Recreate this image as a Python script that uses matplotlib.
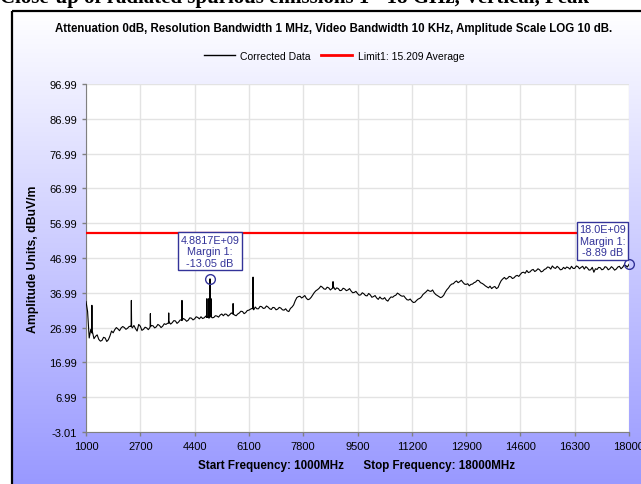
import numpy as np
import matplotlib.pyplot as plt
from matplotlib.lines import Line2D
from matplotlib.patches import Rectangle

# Sweep settings (MHz)
start_mhz = 1000
stop_mhz = 18000
step_mhz = 100

# Corrected data at 1000, 1100, ... 18000 MHz (dBuV/m)
level = [
    34.5, 24.0, 25.8, 24.5, 23.6, 23.3, 24.0, 23.5, 26.0, 26.4,
    26.6, 26.9, 27.0, 26.8, 27.4, 27.6, 26.0, 27.4, 26.5, 26.9,
    27.0, 27.5, 27.2, 27.6, 27.4, 27.9, 28.6, 28.4, 28.9, 28.6,
    29.0, 29.3, 29.1, 29.7, 29.5, 29.9, 30.1, 29.8, 30.0, 30.2,
    29.9, 30.3, 30.6, 30.4, 30.8, 30.7, 31.0, 30.4, 31.2, 31.6,
    31.3, 32.0, 32.5, 32.9, 32.4, 33.0, 32.6, 32.9, 32.2, 32.7,
    32.3, 32.6, 32.0, 31.8, 32.5, 33.5, 35.6, 36.0, 35.8, 35.4,
    35.2, 36.4, 37.6, 38.3, 38.6, 38.0, 38.4, 38.2, 37.9, 38.2,
    37.7, 38.1, 37.8, 37.5, 37.1, 36.8, 36.4, 36.7, 36.1, 36.4,
    35.9, 35.5, 35.8, 35.2, 34.9, 35.3, 35.7, 36.3, 36.6, 36.0,
    35.5, 34.9, 34.6, 34.3, 35.2, 35.8, 36.9, 37.8, 37.4, 37.0,
    36.2, 35.6, 36.3, 37.9, 39.1, 39.6, 40.4, 40.2, 40.0, 39.4,
    39.0, 39.5, 40.1, 40.5, 39.7, 39.0, 38.4, 38.2, 38.8, 38.5,
    40.5, 41.4, 41.2, 41.6, 41.3, 42.0, 42.3, 42.9, 43.4, 43.0,
    43.7, 43.4, 43.6, 43.2, 43.9, 44.3, 44.7, 44.0, 44.2, 43.7,
    43.9, 44.2, 44.6, 44.0, 44.5, 44.3, 43.8, 44.1, 43.6, 42.9,
    43.7, 44.2, 43.8, 44.3, 43.9, 44.1, 43.8, 44.6, 44.3, 44.8,
    45.16,
]

# Corrected data at 1050, 1150, ... 17950 MHz (dBuV/m)
level_half = [
    31.6, 26.5, 23.8, 24.9, 23.1, 24.2, 23.0, 24.6, 25.5, 27.0,
    26.1, 27.3, 26.5, 27.3, 26.9, 26.7, 27.9, 26.2, 27.1, 26.4,
    27.6, 26.9, 27.9, 27.0, 28.1, 28.2, 28.0, 29.0, 28.2, 29.2,
    29.6, 28.8, 29.8, 29.2, 30.1, 29.5, 29.6, 30.3, 29.7, 29.8,
    30.4, 30.0, 30.9, 30.9, 30.3, 31.2, 30.6, 30.9, 31.7, 31.0,
    31.9, 32.3, 32.1, 32.4, 33.1, 32.5, 33.2, 32.4, 32.8, 32.1,
    32.8, 32.1, 32.4, 31.6, 32.9, 34.7, 35.9, 35.5, 36.2, 35.0,
    35.7, 37.1, 37.9, 38.9, 38.1, 38.6, 37.8, 38.7, 38.4, 37.6,
    38.3, 37.6, 38.2, 37.0, 37.4, 36.3, 37.0, 36.2, 36.8, 35.7,
    36.2, 35.1, 35.3, 35.6, 34.6, 35.8, 36.1, 36.9, 36.2, 36.1,
    35.0, 35.2, 34.2, 34.8, 35.4, 36.5, 37.3, 37.5, 37.8, 36.5,
    35.9, 35.8, 37.2, 38.4, 39.5, 40.1, 39.9, 40.6, 39.5, 39.6,
    39.4, 39.9, 40.6, 39.9, 39.4, 38.7, 38.9, 38.6, 38.2, 39.6,
    41.0, 40.9, 41.7, 41.1, 41.8, 41.7, 42.8, 42.6, 42.8, 43.5,
    43.1, 43.9, 43.0, 43.7, 44.4, 43.8, 44.2, 44.6, 43.6, 44.3,
    44.4, 43.8, 44.0, 44.7, 43.9, 44.6, 44.5, 43.5, 44.3, 43.9,
    44.3, 43.6, 44.5, 43.6, 44.5, 43.5, 44.4, 43.9, 45.0, 44.4,
]

# Narrow spurs sitting on the trace
spur_freq = [1185, 2420, 3015, 3590, 4005, 4785, 4845, 4882, 4915, 5605, 6230, 8734]
spur_peak = [33.4, 34.8, 31.0, 31.2, 34.8, 35.3, 35.3, 41.0, 35.3, 33.9, 41.5, 40.2]
spur_base = [25.5, 27.3, 27.3, 28.3, 29.2, 29.9, 30.0, 30.1, 30.1, 30.9, 32.4, 38.4]

limit = 54.05
marker_freq = [4881.7, 18000]
marker_level = [41.0, 45.16]
marker_text = ['4.8817E+09\nMargin 1:\n-13.05 dB', '18.0E+09\nMargin 1:\n-8.89 dB']

y_ticks = [-3.01, 6.99, 16.99, 26.99, 36.99, 46.99, 56.99, 66.99, 76.99, 86.99, 96.99]
x_ticks = [1000, 2700, 4400, 6100, 7800, 9500, 11200, 12900, 14600, 16300, 18000]

navy = '#333399'

# Build trace: sweep points, half steps and spurs, sorted by frequency
freq = np.arange(start_mhz, stop_mhz + 1, step_mhz)
freq_half = freq[:-1] + step_mhz // 2
pts = list(zip(freq, level)) + list(zip(freq_half, level_half))
for f, p, b in zip(spur_freq, spur_peak, spur_base):
    pts += [(f - 8, b), (f, p), (f + 8, b)]
pts.sort()
tx = [p[0] for p in pts]
ty = [p[1] for p in pts]

plt.rcParams['font.family'] = ['Liberation Sans', 'DejaVu Sans']

fig = plt.figure(figsize=(6.41, 4.85), dpi=100)

# Panel background: vertical gradient white -> periwinkle, drawn in pixels
panel_h, panel_w = 473, 629
t = np.linspace(0, 1, panel_h).reshape(-1, 1, 1)
top_rgb = np.array([1.0, 1.0, 1.0])
bot_rgb = np.array([0x99, 0x99, 0xff]) / 255
grad = (1 - t) * top_rgb + t * bot_rgb
fig.figimage(np.repeat(grad, panel_w, axis=1), xo=12, yo=0, origin='upper', zorder=-5)
# keep the bottom rows plain periwinkle
fig.add_artist(Rectangle((13 / 641, 0), 1, 4 / 485, transform=fig.transFigure,
                         fc='#9999ff', ec='none', lw=0, zorder=50))

# Black frame at left and top of the panel
fig.add_artist(Line2D([12 / 641, 12 / 641], [0, 1 - 12 / 485], color='black',
                      lw=1.6, solid_capstyle='butt', zorder=60))
fig.add_artist(Line2D([12 / 641, 1], [1 - 12 / 485, 1 - 12 / 485], color='black',
                      lw=1.6, solid_capstyle='butt'))

# Cut-off heading of the surrounding document
fig.text(0.0, 1 - 2.5 / 485, 'Close-up of radiated spurious emissions 1 - 18 GHz, Vertical, Peak',
         family='Liberation Serif', weight='bold', fontsize=15, va='baseline', ha='left')

ax = fig.add_axes([86 / 641, 52 / 485, 543 / 641, 348 / 485])
ax.set_facecolor('white')
ax.plot(tx, ty, color='black', lw=0.8, zorder=3)
ax.axhline(limit, color='#ff0000', lw=1.6, zorder=4)
ax.plot(marker_freq, marker_level, 'o', ms=7, mfc='none', mec=navy, mew=1.0,
        zorder=5, clip_on=False)

ax.annotate(marker_text[0], xy=(marker_freq[0], marker_level[0]), xytext=(0, 8),
            textcoords='offset points', ha='center', va='bottom', fontsize=7.8,
            color=navy, linespacing=1.2, multialignment='center', zorder=6,
            bbox=dict(boxstyle='square,pad=0.2', fc='white', ec=navy, lw=1))
ax.annotate(marker_text[1], xy=(marker_freq[1], marker_level[1]), xytext=(-2, 5),
            textcoords='offset points', ha='right', va='bottom', fontsize=7.8,
            color=navy, linespacing=1.2, multialignment='center', zorder=6,
            bbox=dict(boxstyle='square,pad=0.2', fc='white', ec=navy, lw=1))

ax.set_xlim(start_mhz, stop_mhz)
ax.set_ylim(-3.01, 96.99)
ax.set_xticks(x_ticks)
ax.set_yticks(y_ticks)
ax.set_yticklabels(['%.2f' % v for v in y_ticks])
ax.grid(True, color='#e3e3e3', lw=1)
ax.set_axisbelow(True)
ax.tick_params(labelsize=8, color='#808080', length=3, width=1)
for side in ['top', 'right']:
    ax.spines[side].set_visible(False)
for side in ['left', 'bottom']:
    ax.spines[side].set_color('#808080')

fig.text(0.52, 1 - 29 / 485,
         'Attenuation 0dB, Resolution Bandwidth 1 MHz, Video Bandwidth 10 KHz, Amplitude Scale LOG 10 dB.',
         ha='center', va='center', fontsize=8.3, weight='bold')

handles = [Line2D([], [], color='black', lw=1),
           Line2D([], [], color='#ff0000', lw=2)]
fig.legend(handles, ['Corrected Data', 'Limit1: 15.209 Average'], ncol=2,
           loc='center', bbox_to_anchor=(334 / 641, 1 - 57 / 485), frameon=False,
           fontsize=7.5, handlelength=3.0, handletextpad=0.5, columnspacing=1.0)

fig.text(33 / 641, 1 - 259 / 485, 'Amplitude Units, dBuV/m', rotation=90,
         ha='center', va='center', fontsize=8.8, weight='bold')
fig.text(356 / 641, 1 - 466 / 485,
         'Start Frequency: 1000MHz      Stop Frequency: 18000MHz',
         ha='center', va='center', fontsize=8.4, weight='bold')

fig.savefig('out.png', dpi=100)
